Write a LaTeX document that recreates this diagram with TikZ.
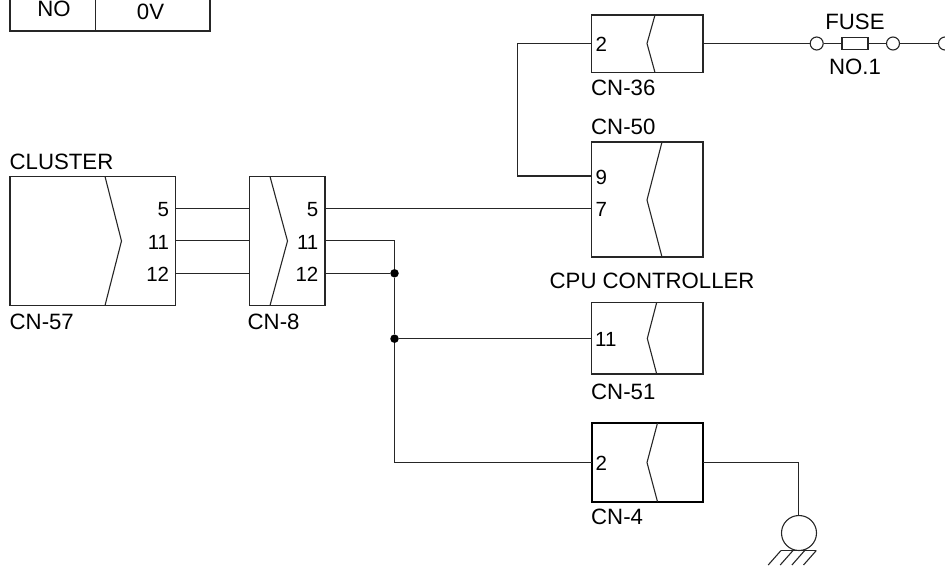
\documentclass[tikz,border=0pt]{standalone}
\usepackage{fontspec}
\setmainfont{Liberation Sans}
\tikzset{
  wire/.style={draw=black!85,line width=1.1pt,line cap=butt,line join=miter},
  conbox/.style={rectangle,draw=black!85,line width=1.1pt,inner sep=0pt,outer sep=0pt},
  heavybox/.style={conbox,draw=black,line width=1.7pt},
  chev/.style={draw=black!85,line width=1.1pt},
  lab/.style={inner sep=0pt,font=\fontsize{22.2}{24}\selectfont},
  pin/.style={inner sep=0pt,font=\fontsize{20.5}{22}\selectfont},
  dot/.style={circle,fill=black,draw=none,minimum size=8.5pt,inner sep=0pt},
  term/.style={circle,draw=black!85,line width=1.1pt,fill=white,minimum size=13pt,inner sep=0pt},
  fusebox/.style={rectangle,draw=black!85,line width=1.1pt,minimum width=26pt,minimum height=11.5pt,inner sep=0pt},
}
\newcommand{\cbox}[6][conbox]{% style, name, x1, y1, x2, y2
  \node[#1,minimum width={#5-#3},minimum height={#6-#4},anchor=north west] (#2) at (#3,#4) {};}
\begin{document}
\begin{tikzpicture}[x=1pt,y=-1pt]
\useasboundingbox (0,0) rectangle (945,565);
\clip (0,0) rectangle (945,565);
% table fragment
\coordinate (tl) at (10,-5); \coordinate (tm) at (95.5,-5); \coordinate (tr) at (210,-5);
\coordinate (bl) at (10,31); \coordinate (bm) at (95.5,31); \coordinate (br) at (210,31);
\draw[wire] (tl) -- (bl) -- (br) -- (tr);
\draw[wire] (tm) -- (bm);
\node[lab] (no) at (54,8.5) {NO};
\node[lab] (ov) at (150.5,11.7) {0V};
% connector boxes
\cbox{cn57}{10}{176.5}{175.5}{305.5}
\cbox{cn8}{249.5}{176.5}{325}{305.5}
\cbox{cn36}{591.7}{15}{703}{72.5}
\cbox{cn50}{591.7}{142}{703}{257}
\cbox{cn51}{591.7}{302.5}{703}{374}
\cbox[heavybox]{cn4}{591.7}{423}{703}{501.7}
% chevrons
\draw[chev] (105,176.5) -- (121.5,241) -- (105,305.5);
\draw[chev] (270,176.5) -- (287.5,241) -- (270,305.5);
\draw[chev] (655,15) -- (647,43.5) -- (655,72.5);
\draw[chev] (662,142) -- (647,200) -- (662,257);
\draw[chev] (656.7,302.5) -- (647.3,338.5) -- (656.7,374);
\draw[chev] (657.5,423) -- (647,462.5) -- (657.5,501.7);
% pin numbers
\node[pin,anchor=east] (p575) at (169.3,210) {5};
\node[pin,anchor=east] (p5711) at (169.3,242) {11};
\node[pin,anchor=east] (p5712) at (169.3,274.8) {12};
\node[pin,anchor=east] (p85) at (318.5,210) {5};
\node[pin,anchor=east] (p811) at (318.5,242) {11};
\node[pin,anchor=east] (p812) at (318.5,274.8) {12};
\node[pin,anchor=west] (p362) at (595.5,44.5) {2};
\node[pin,anchor=west] (p509) at (595.5,177.5) {9};
\node[pin,anchor=west] (p507) at (595.5,209.5) {7};
\node[pin,anchor=west] (p5111) at (595,339.5) {11};
\node[pin,anchor=west] (p42) at (595.5,463) {2};
% labels
\node[lab,anchor=west] (lcluster) at (9.5,161.7) {CLUSTER};
\node[lab,anchor=west] (l57) at (9.5,322.3) {CN-57};
\node[lab,anchor=west] (l8) at (247.5,322.3) {CN-8};
\node[lab,anchor=west] (l36) at (591,88) {CN-36};
\node[lab,anchor=west] (l50) at (591,126.5) {CN-50};
\node[lab,anchor=west] (lcpu) at (549.5,280.7) {CPU CONTROLLER};
\node[lab,anchor=west] (l51) at (591,391.7) {CN-51};
\node[lab,anchor=west] (l4) at (591,517.3) {CN-4};
\node[lab] (lfuse) at (855,21.5) {FUSE};
\node[lab] (lno1) at (855,67) {NO.1};
% junctions and free coordinates
\node[dot] (j1) at (394.5,273.3) {};
\node[dot] (j2) at (394.5,338.7) {};
\coordinate (c11) at (394.5,240.7);
\coordinate (cb) at (394.5,462.5);
\coordinate (ctop) at (517.5,43.5);
\coordinate (cbot) at (517.5,176);
\coordinate (gc) at (798.7,462.5);
% wires
\draw[wire] (cn57.east |- 0,208.7) -- (cn8.west |- 0,208.7);
\draw[wire] (cn57.east |- 0,240.7) -- (cn8.west |- 0,240.7);
\draw[wire] (cn57.east |- 0,273.3) -- (cn8.west |- 0,273.3);
\draw[wire] (cn8.east |- 0,208.7) -- (cn50.west |- 0,208.7);
\draw[wire] (cn8.east |- c11) -- (c11) -- (j1);
\draw[wire] (cn8.east |- j1) -- (j1);
\draw[wire] (j1) -- (j2) -- (cb) -- (cn4.west |- cb);
\draw[wire] (j2) -- (cn51.west |- j2);
\draw[wire] (cn36.west |- ctop) -- (ctop) -- (cbot) -- (cn50.west |- cbot);
% fuse
\node[term] (t1) at (816.7,43.5) {};
\node[fusebox] (fuse) at (855,43.5) {};
\node[term] (t2) at (893,43.5) {};
\node[term] (t3) at (945,43.5) {};
\draw[wire] (cn36.east |- t1) -- (t1);
\draw[wire] (t1) -- (fuse);
\draw[wire] (fuse) -- (t2);
\draw[wire] (t2) -- (t3);
% ground
\node[circle,draw=black!85,line width=1.1pt,minimum size=35pt,inner sep=0pt] (gnd) at (799,533) {};
\draw[wire] (cn4.east |- gc) -- (gc) -- (gc |- gnd.north);
\coordinate (ha) at (781,550.5); \coordinate (hb) at (816.3,550.5);
\draw[wire] (ha) -- (hb);
\draw[chev] (781,550.5) -- ++(-12.8,14.5);
\draw[chev] (793,550.5) -- ++(-12.8,14.5);
\draw[chev] (804.7,550.5) -- ++(-12.8,14.5);
\draw[chev] (816.3,550.5) -- ++(-12.8,14.5);
\end{tikzpicture}
\end{document}
